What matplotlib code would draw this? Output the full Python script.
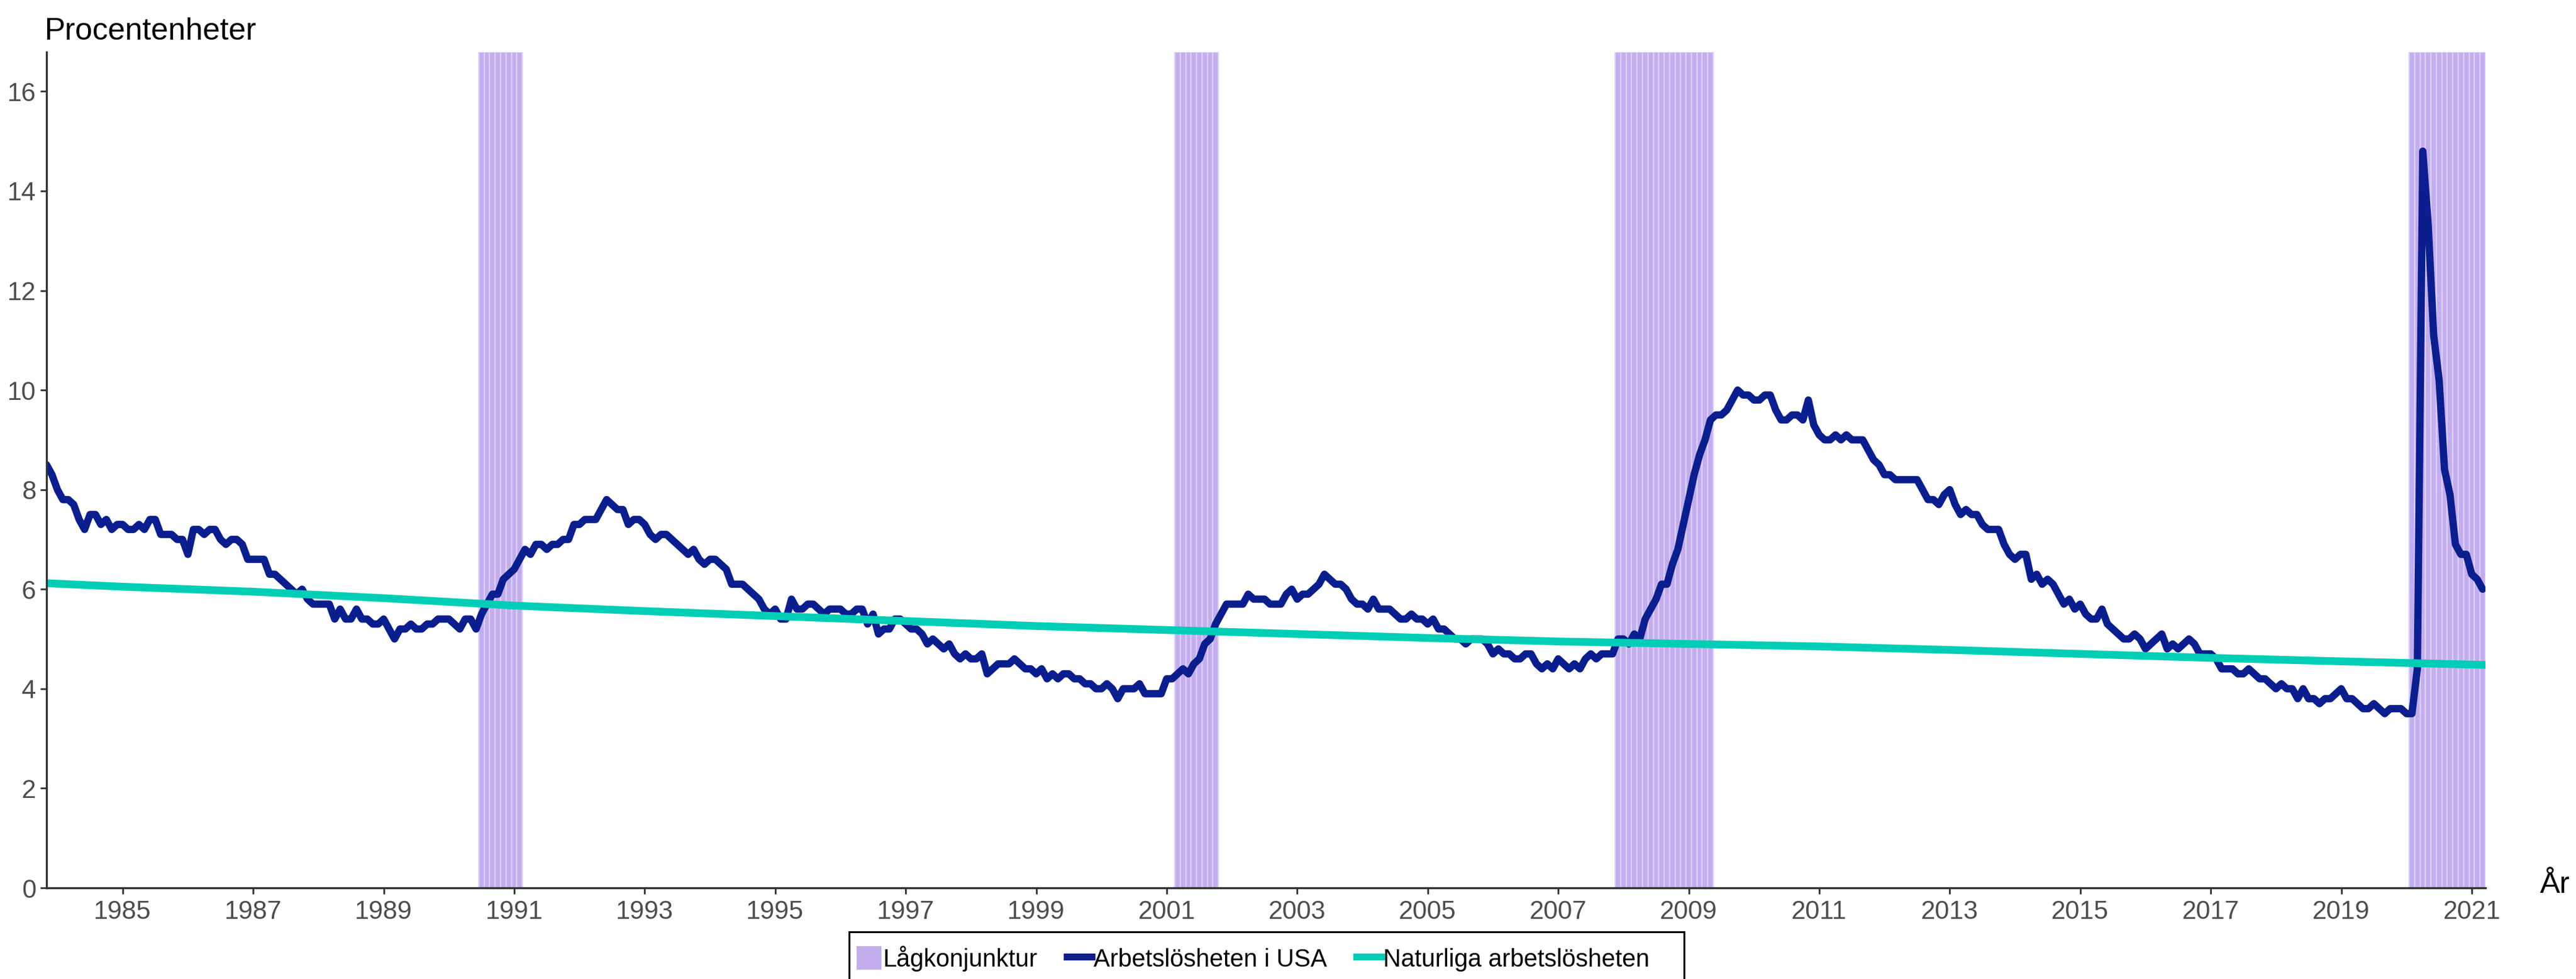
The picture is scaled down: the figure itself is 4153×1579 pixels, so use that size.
import numpy as np
import matplotlib.pyplot as plt
from matplotlib.lines import Line2D
from matplotlib.patches import Patch, Rectangle

# US unemployment rate, monthly, starting Nov 1983 (percent)
start_year, start_month = 1983, 11
unemployment = [
    8.5, 8.3,
    8.0, 7.8, 7.8, 7.7, 7.4, 7.2, 7.5, 7.5, 7.3, 7.4, 7.2, 7.3,  # 1984
    7.3, 7.2, 7.2, 7.3, 7.2, 7.4, 7.4, 7.1, 7.1, 7.1, 7.0, 7.0,  # 1985
    6.7, 7.2, 7.2, 7.1, 7.2, 7.2, 7.0, 6.9, 7.0, 7.0, 6.9, 6.6,  # 1986
    6.6, 6.6, 6.6, 6.3, 6.3, 6.2, 6.1, 6.0, 5.9, 6.0, 5.8, 5.7,  # 1987
    5.7, 5.7, 5.7, 5.4, 5.6, 5.4, 5.4, 5.6, 5.4, 5.4, 5.3, 5.3,  # 1988
    5.4, 5.2, 5.0, 5.2, 5.2, 5.3, 5.2, 5.2, 5.3, 5.3, 5.4, 5.4,  # 1989
    5.4, 5.3, 5.2, 5.4, 5.4, 5.2, 5.5, 5.7, 5.9, 5.9, 6.2, 6.3,  # 1990
    6.4, 6.6, 6.8, 6.7, 6.9, 6.9, 6.8, 6.9, 6.9, 7.0, 7.0, 7.3,  # 1991
    7.3, 7.4, 7.4, 7.4, 7.6, 7.8, 7.7, 7.6, 7.6, 7.3, 7.4, 7.4,  # 1992
    7.3, 7.1, 7.0, 7.1, 7.1, 7.0, 6.9, 6.8, 6.7, 6.8, 6.6, 6.5,  # 1993
    6.6, 6.6, 6.5, 6.4, 6.1, 6.1, 6.1, 6.0, 5.9, 5.8, 5.6, 5.5,  # 1994
    5.6, 5.4, 5.4, 5.8, 5.6, 5.6, 5.7, 5.7, 5.6, 5.5, 5.6, 5.6,  # 1995
    5.6, 5.5, 5.5, 5.6, 5.6, 5.3, 5.5, 5.1, 5.2, 5.2, 5.4, 5.4,  # 1996
    5.3, 5.2, 5.2, 5.1, 4.9, 5.0, 4.9, 4.8, 4.9, 4.7, 4.6, 4.7,  # 1997
    4.6, 4.6, 4.7, 4.3, 4.4, 4.5, 4.5, 4.5, 4.6, 4.5, 4.4, 4.4,  # 1998
    4.3, 4.4, 4.2, 4.3, 4.2, 4.3, 4.3, 4.2, 4.2, 4.1, 4.1, 4.0,  # 1999
    4.0, 4.1, 4.0, 3.8, 4.0, 4.0, 4.0, 4.1, 3.9, 3.9, 3.9, 3.9,  # 2000
    4.2, 4.2, 4.3, 4.4, 4.3, 4.5, 4.6, 4.9, 5.0, 5.3, 5.5, 5.7,  # 2001
    5.7, 5.7, 5.7, 5.9, 5.8, 5.8, 5.8, 5.7, 5.7, 5.7, 5.9, 6.0,  # 2002
    5.8, 5.9, 5.9, 6.0, 6.1, 6.3, 6.2, 6.1, 6.1, 6.0, 5.8, 5.7,  # 2003
    5.7, 5.6, 5.8, 5.6, 5.6, 5.6, 5.5, 5.4, 5.4, 5.5, 5.4, 5.4,  # 2004
    5.3, 5.4, 5.2, 5.2, 5.1, 5.0, 5.0, 4.9, 5.0, 5.0, 5.0, 4.9,  # 2005
    4.7, 4.8, 4.7, 4.7, 4.6, 4.6, 4.7, 4.7, 4.5, 4.4, 4.5, 4.4,  # 2006
    4.6, 4.5, 4.4, 4.5, 4.4, 4.6, 4.7, 4.6, 4.7, 4.7, 4.7, 5.0,  # 2007
    5.0, 4.9, 5.1, 5.0, 5.4, 5.6, 5.8, 6.1, 6.1, 6.5, 6.8, 7.3,  # 2008
    7.8, 8.3, 8.7, 9.0, 9.4, 9.5, 9.5, 9.6, 9.8, 10.0, 9.9, 9.9,  # 2009
    9.8, 9.8, 9.9, 9.9, 9.6, 9.4, 9.4, 9.5, 9.5, 9.4, 9.8, 9.3,  # 2010
    9.1, 9.0, 9.0, 9.1, 9.0, 9.1, 9.0, 9.0, 9.0, 8.8, 8.6, 8.5,  # 2011
    8.3, 8.3, 8.2, 8.2, 8.2, 8.2, 8.2, 8.0, 7.8, 7.8, 7.7, 7.9,  # 2012
    8.0, 7.7, 7.5, 7.6, 7.5, 7.5, 7.3, 7.2, 7.2, 7.2, 6.9, 6.7,  # 2013
    6.6, 6.7, 6.7, 6.2, 6.3, 6.1, 6.2, 6.1, 5.9, 5.7, 5.8, 5.6,  # 2014
    5.7, 5.5, 5.4, 5.4, 5.6, 5.3, 5.2, 5.1, 5.0, 5.0, 5.1, 5.0,  # 2015
    4.8, 4.9, 5.0, 5.1, 4.8, 4.9, 4.8, 4.9, 5.0, 4.9, 4.7, 4.7,  # 2016
    4.7, 4.6, 4.4, 4.4, 4.4, 4.3, 4.3, 4.4, 4.3, 4.2, 4.2, 4.1,  # 2017
    4.0, 4.1, 4.0, 4.0, 3.8, 4.0, 3.8, 3.8, 3.7, 3.8, 3.8, 3.9,  # 2018
    4.0, 3.8, 3.8, 3.7, 3.6, 3.6, 3.7, 3.6, 3.5, 3.6, 3.6, 3.6,  # 2019
    3.5, 3.5, 4.4, 14.8, 13.3, 11.1, 10.2, 8.4, 7.9, 6.9, 6.7, 6.7,  # 2020
    6.3, 6.2, 6.0,  # 2021
]

# natural rate of unemployment
nrou_years = [1983.83, 1985, 1987, 1989, 1991, 1993, 1995, 1997, 1999, 2001,
              2003, 2005, 2007, 2009, 2011, 2013, 2015, 2017, 2019, 2021.17]
nrou_values = [6.12, 6.05, 5.95, 5.82, 5.67, 5.56, 5.46, 5.36, 5.26, 5.18,
               5.10, 5.02, 4.95, 4.90, 4.85, 4.78, 4.70, 4.62, 4.55, 4.48]

# recessions (first and last month)
rec_start = [(1990, 7), (2001, 3), (2007, 12), (2020, 2)]
rec_end = [(1991, 2), (2001, 10), (2009, 5), (2021, 3)]

x_ticks = list(range(1985, 2022, 2))
y_ticks = list(range(0, 17, 2))

navy = '#0b1e8e'
teal = '#00cdb5'
lavender = '#c3adee'
stripe = '#dccff7'

W, H = 4153, 1579
fig = plt.figure(figsize=(W / 100, H / 100), dpi=100)
ax = fig.add_axes([75 / W, 1 - 1432 / H, (4007 - 75) / W, (1432 - 84) / H])

ymax = 16.79
months = start_year + (start_month - 1) / 12 + np.arange(len(unemployment)) / 12

# recession bars, one per month
for (y0, m0), (y1, m1) in zip(rec_start, rec_end):
    n = (y1 - y0) * 12 + (m1 - m0) + 1
    xs = y0 + (m0 - 1) / 12 + np.arange(n) / 12
    ax.bar(xs, ymax, width=1 / 12, bottom=0, color=lavender,
           edgecolor=stripe, linewidth=1.6, zorder=1)

ax.plot(months, unemployment, color=navy, lw=8.5, solid_joinstyle='round',
        solid_capstyle='round', zorder=3)
ax.plot(nrou_years, nrou_values, color=teal, lw=9, zorder=4)

ax.set_xlim(months[0], 2021.21)
ax.set_ylim(0, ymax)
ax.set_xticks(x_ticks)
ax.set_yticks(y_ticks)

tick_font = {'family': 'Liberation Sans', 'size': 30}
ax.set_xticklabels([str(t) for t in x_ticks], fontdict=tick_font, color='#4d4d4d')
ax.set_yticklabels([str(t) for t in y_ticks], fontdict=tick_font, color='#4d4d4d')
ax.tick_params(axis='both', length=7, width=2, color='#333333')
ax.tick_params(axis='x', pad=7)
ax.tick_params(axis='y', pad=5)

for s in ['top', 'right']:
    ax.spines[s].set_visible(False)
for s in ['left', 'bottom']:
    ax.spines[s].set_color('#333333')
    ax.spines[s].set_linewidth(2.4)
    ax.spines[s].set_zorder(5)

fig.text(72 / W, 1 - 64 / H, 'Procentenheter', fontsize=36,
         family='Liberation Sans', va='baseline', ha='left')
fig.text(4095 / W, 1 - 1440 / H, 'År', fontsize=35,
         family='Liberation Sans', va='baseline', ha='left')

# legend
handles = [
    Patch(facecolor=lavender, edgecolor='none'),
    Line2D([], [], color=navy, lw=8),
    Line2D([], [], color=teal, lw=8),
]
labels = ['Lågkonjunktur', 'Arbetslösheten i USA', 'Naturliga arbetslösheten']
fig.legend(handles, labels, loc='center', bbox_to_anchor=(2020 / W, 1 - 1546 / H),
           ncol=3, frameon=False, prop={'family': 'Liberation Sans', 'size': 28.5},
           handlelength=1.0, handleheight=1.1, handletextpad=0.08,
           columnspacing=1.2)
fig.add_artist(Rectangle((1369 / W, -0.02), (2715 - 1369) / W, (1 - 1503 / H) + 0.02,
                         transform=fig.transFigure, fill=False,
                         edgecolor='black', linewidth=2.2))

fig.savefig('out.png', dpi=100)
